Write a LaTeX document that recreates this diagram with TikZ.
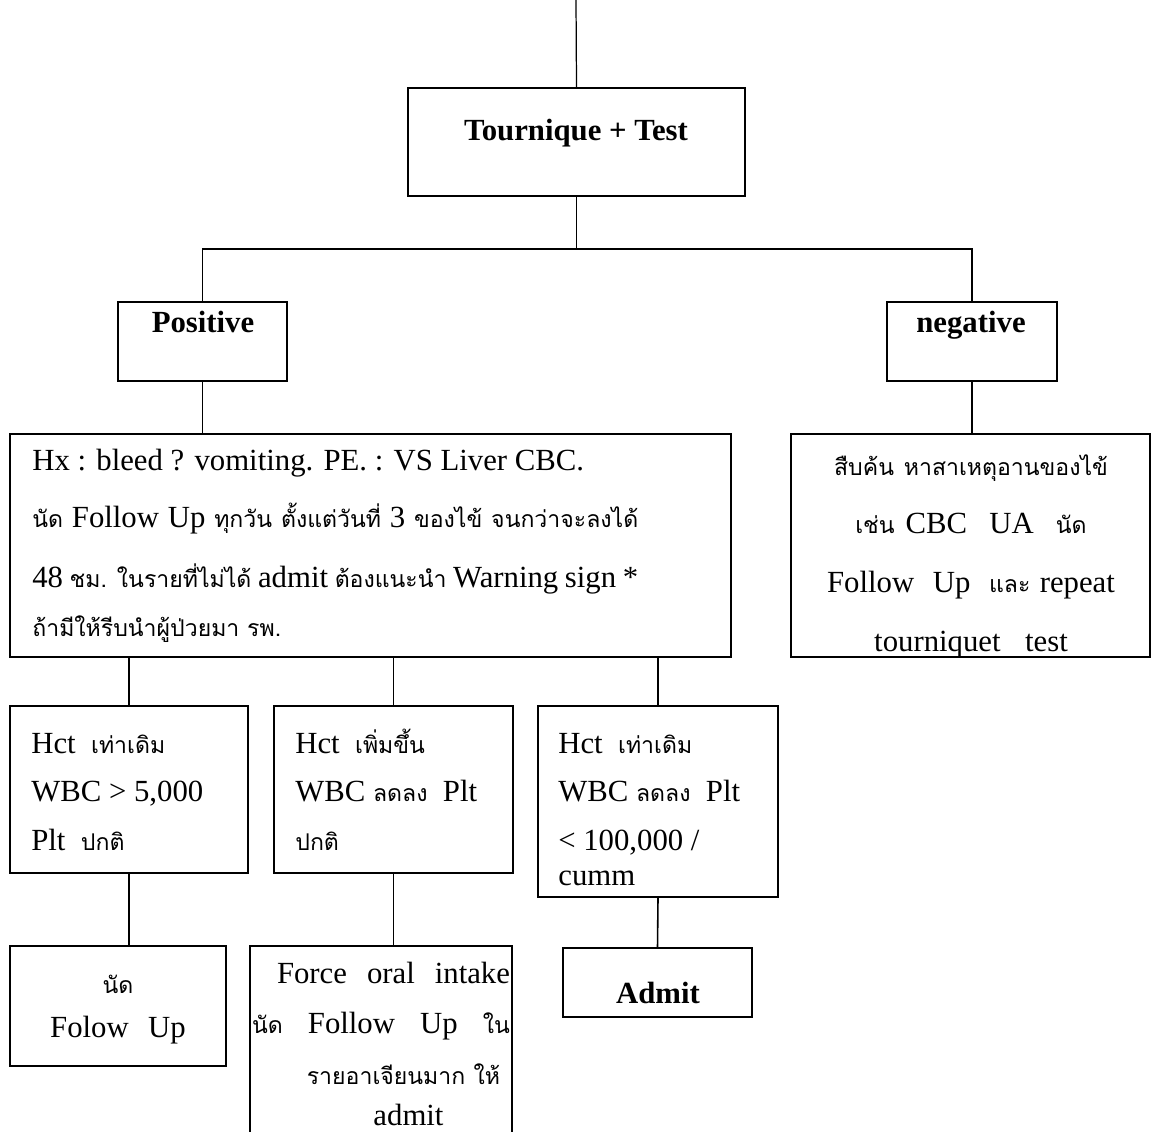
\documentclass[tikz,border=0pt]{standalone}
\usepackage{fontspec}
\setmainfont{Liberation Serif}
\newfontfamily\thaifont[Script=Thai,Scale=0.75]{Loma}
\newcommand{\thw}[1]{{\thaifont #1}}
\usetikzlibrary{fit,calc}

\begin{document}
\begin{tikzpicture}[x=0.02cm, y=-0.02cm,
  box/.style={draw, line width=1.2pt, inner sep=0pt},
  link/.style={line width=0.9pt},
  txt/.style={inner sep=0pt, font=\fontsize{17.5}{#1}\selectfont,
    execute at begin node={\spaceskip=0pt\xspaceskip=0pt}},
  ttl/.style={inner sep=0pt, font=\fontsize{17.5}{22}\selectfont\bfseries}
]
\useasboundingbox (0,0) rectangle (1151,1131);

\coordinate (entry) at (576,0);
\node[box, fit={(408,88) (745,196)}] (tq) {};
\node[box, fit={(118,302) (287,381)}] (pos) {};
\node[box, fit={(887,302) (1057,381)}] (neg) {};
\node[box, fit={(10,434) (731,657)}] (hx) {};
\node[box, fit={(791,434) (1150,657)}] (inv) {};
\node[box, fit={(10,706) (248,873)}] (hct1) {};
\node[box, fit={(274,706) (513,873)}] (hct2) {};
\node[box, fit={(538,706) (778,897)}] (hct3) {};
\node[box, fit={(10,946) (226,1066)}] (fu) {};
\node[box, fit={(250,946) (512,1150)}] (oral) {};
\node[box, fit={(563,948) (752,1017)}] (adm) {};

\node[ttl, anchor=base] (tqlbl) at (576,141) {Tournique + Test};
\node[ttl, anchor=base] (poslbl) at (203,333) {Positive};
\node[ttl, anchor=base] (neglbl) at (971,333) {negative};
\node[ttl, anchor=base] (admlbl) at (658,1003) {Admit};

\node[txt=33pt, anchor=base west, text width=12.12cm, align=left] (hxlbl) at (32,470)
  {Hx : bleed ? vomiting. PE. : VS Liver CBC.\\
   \makebox[\linewidth][s]{\thw{นัด} Follow Up \thw{ทุกวัน ตั้งแต่วันที่} 3 \thw{ของไข้ จนกว่าจะลงได้}}\\[1pt]
   \makebox[\linewidth][s]{48 \thw{ชม. ในรายที่ไม่ได้} admit \thw{ต้องแนะนำ} Warning sign *}\\[-5pt]
   \thw{ถ้ามีให้รีบนำผู้ป่วยมา รพ.}};
\node[txt=33.5pt, anchor=base, text width=6.8cm, align=center] (invlbl) at (971,475)
  {\thw{สืบค้น หาสาเหตุอานของไข้}\\
   \thw{เช่น} CBC ~UA ~\thw{นัด}\\
   Follow ~Up ~\thw{และ} repeat\\
   tourniquet ~test};
\node[txt=27.8pt, anchor=base west, text width=4.2cm, align=left] (hct1lbl) at (31,753)
  {Hct ~\thw{เท่าเดิม}\\ WBC > 5,000\\ Plt ~\thw{ปกติ}};
\node[txt=27.8pt, anchor=base west, text width=4.2cm, align=left] (hct2lbl) at (295,753)
  {Hct ~\thw{เพิ่มขึ้น}\\ WBC \thw{ลดลง} ~Plt\\ \thw{ปกติ}};
\node[txt=27.8pt, anchor=base west, text width=4.2cm, align=left] (hct3lbl) at (558,753)
  {Hct ~\thw{เท่าเดิม}\\ WBC \thw{ลดลง} ~Plt\\ < 100,000 /\\[-8pt] cumm};
\node[txt=25.5pt, anchor=base, text width=4cm, align=center] (fulbl) at (118,993)
  {\thw{นัด}\\ Folow ~Up};
\node[txt=29pt, anchor=base, text width=5.16cm, align=center] (orallbl) at (381,983)
  {\makebox[\linewidth][r]{\makebox[4.66cm][s]{Force oral intake}}\\
   \makebox[\linewidth][s]{\thw{นัด} Follow Up \thw{ใน}}\\
   \hspace*{0.9cm}\thw{รายอาเจียนมาก ให้}\\[-6pt]
   \hspace*{1.1cm}admit};

\draw[line width=0.7pt] (entry) -- (tq.north);
\draw[link] (tq.south) -- ++(0,52) coordinate (fork);
\draw[link] (pos.north) |- (fork) -| (neg.north);
\draw[link] (pos.south) -- (pos.south |- hx.north);
\draw[link] (neg.south) -- (neg.south |- inv.north);
\draw[link] (hct1.north) -- (hct1.north |- hx.south);
\draw[link] (hct2.north) -- (hct2.north |- hx.south);
\draw[link] (hct3.north) -- (hct3.north |- hx.south);
\draw[link] (hct1.south) -- (hct1.south |- fu.north);
\draw[link] (hct2.south) -- (hct2.south |- oral.north);
\draw[link] (hct3.south) -- (adm.north);
\end{tikzpicture}
\end{document}
